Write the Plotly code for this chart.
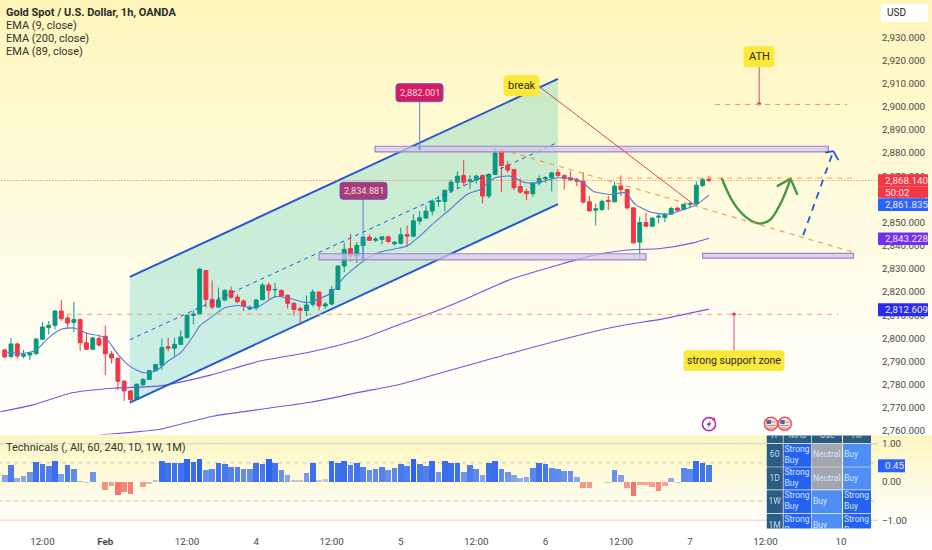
import numpy as np
import plotly.graph_objects as go

W = 932
H = 550

# hourly candles
opens = [2795,2792.1,2797.6,2792.3,2792.8,2793.4,2799.6,2804.6,2805.6,2811.8,2808.8,2806.8,2808.1,2798.1,2795.3,2800,2800.9,2793.3,2791.5,2781.5,2777.3,2773.7,2780,2782.3,2786.1,2788.4,2796.4,2795.7,2797.4,2800.3,2809.9,2810.4,2829.2,2816.8,2813.5,2816.5,2820.6,2817.8,2816.1,2812.7,2813.2,2816.7,2823,2820.9,2820.7,2818.6,2815.1,2812.8,2812,2814.7,2820,2814,2814.8,2821.1,2831.2,2838.8,2835.5,2840,2843.7,2842.3,2842.7,2843.8,2840.8,2841,2844.8,2844.1,2850.6,2851.9,2854.9,2859.1,2859.1,2863.7,2867.4,2870.3,2867.8,2868.3,2870.3,2861.4,2870.7,2880.3,2874.7,2872.9,2865.5,2863.4,2862.4,2867,2868.8,2869.3,2871.6,2870.3,2869.3,2868.5,2867.8,2858.9,2855.3,2855.6,2859.5,2858.9,2865.7,2864.2,2856.3,2841.5,2850,2848.4,2852.3,2852.2,2853.6,2856.2,2855.6,2857.8,2858.1,2866,2868.7]
highs = [2795.5,2800.2,2798.1,2795,2794.1,2800.3,2807,2807.5,2812.1,2816.5,2809.9,2815.7,2808.5,2802.2,2800.7,2801.6,2805.5,2794.6,2791.5,2782,2777.5,2780.5,2782.8,2786.4,2789,2799.9,2800.3,2800.3,2803.5,2810.4,2812.1,2830.2,2829.6,2825,2821.9,2821.1,2822.3,2819,2816.8,2814.2,2817.1,2824,2824,2824,2821.1,2818.8,2815.7,2813.7,2818.6,2821.1,2820.4,2815.7,2822.6,2831.5,2841.3,2845.1,2841.5,2843.7,2844.8,2843.8,2844.1,2844.1,2842,2847.7,2848.7,2853.5,2854.9,2857.3,2859.9,2861.4,2864.2,2868.5,2872.1,2876.9,2870.3,2870.7,2870.7,2871.1,2882.2,2881.8,2876.4,2873.1,2869,2864.5,2867.4,2870.3,2870,2871.9,2873.1,2870.7,2872.1,2869.3,2871.7,2861.4,2858.2,2859.9,2861.6,2867.5,2870.3,2864.5,2856.6,2852.5,2854.2,2852.2,2853.5,2854.2,2856.8,2856.8,2858.2,2858.8,2867.8,2869.3,2870.1]
lows = [2791.5,2791.7,2791.3,2791.3,2790.7,2792.7,2799.2,2801.7,2803.9,2807.5,2804.5,2802.7,2794.6,2795,2795,2796.4,2784.2,2789.2,2777.7,2773,2772,2773.4,2779.5,2782,2785.8,2786.4,2794.4,2792.4,2797.1,2800,2806,2810.1,2813.2,2812.5,2813.2,2816,2817.1,2815.1,2811.8,2812.1,2812.1,2816.4,2816.8,2817.5,2817.8,2812.8,2809.9,2806.5,2809.6,2813.7,2812.1,2812.8,2814.2,2820.9,2828.6,2833.1,2832.6,2834.8,2842,2841.5,2840.5,2841.2,2840.1,2840.5,2839.5,2843.8,2849.1,2851.6,2853,2856.8,2854.8,2862.8,2864.5,2865.7,2864.5,2866.8,2858.2,2860.4,2870.4,2863.1,2871.4,2864,2862.5,2859.6,2861.1,2866,2867.1,2863.4,2869.7,2864.2,2867.8,2865.7,2858.2,2854.8,2848.7,2855,2855.3,2858.8,2861.4,2855.6,2841,2834.1,2848.1,2848,2849.6,2850.2,2853.3,2854.5,2855.3,2856.2,2857.1,2865.2,2867.7]
closes = [2792,2797.6,2792.4,2793,2793.7,2799.7,2804.9,2805.6,2811.8,2808.5,2806.6,2808.1,2798.1,2795.3,2800.2,2797.1,2793.3,2791.5,2781.5,2777.3,2773.6,2780.2,2782.3,2786.1,2788.7,2796,2795.8,2797.4,2800.6,2809.9,2810.5,2829.9,2816.8,2813.5,2816.5,2820.7,2817.7,2815.8,2814.1,2813.4,2816.5,2823,2820.7,2821.1,2818.3,2815.1,2812.5,2812.1,2814.4,2820,2814,2814.8,2821.1,2831.2,2838.4,2835.5,2840.1,2843.7,2842.3,2842.8,2843.8,2841.8,2841.5,2844.7,2844.1,2850.7,2852,2854.9,2859.2,2859.5,2863.9,2867.4,2870,2867.4,2868.4,2870,2861.4,2870.7,2880,2874.6,2872.6,2865.1,2863.1,2862.4,2867,2869,2869.4,2871.4,2870.3,2869,2868.4,2867.8,2858.8,2855,2855.9,2859.1,2859.1,2865.7,2864.2,2856.3,2841.2,2850,2848.4,2851.9,2852.7,2853.6,2856,2855.3,2857.8,2858.2,2866.1,2868.5,2868]
bars = list(range(len(opens)))

# Technicals histogram, one value per candle
tech_values = [.16,.44,.1,.14,.25,.51,.45,.41,.54,.2,.43,.34,.01,-.03,.25,-.01,-.22,-.12,-.36,-.28,-.32,-.01,-.15,-.05,.04,.54,.49,.49,.49,.6,.52,.6,.3,.34,.49,.45,.39,.39,.32,.32,.49,.45,.6,.49,.3,.16,.05,.05,.23,.5,.03,.07,.54,.5,.54,.43,.49,.39,.3,.34,.39,.3,.36,.45,.41,.6,.45,.41,.54,.25,.54,.5,.5,.25,.43,.34,.16,.5,.54,.34,.25,.16,.09,.12,.36,.5,.45,.36,.34,.28,.28,.13,-.17,-.17,-.01,-.01,-.03,.3,.17,-.17,-.39,-.09,-.09,-.14,-.24,-.12,.1,-.03,.36,.34,.54,.5,.43]

ema9_x = [0,3,5,7,9,11,13,16,18,20,22,24,26,28,30,31,33,35,37,40,43,45,48,52,53.9,57,59.7,64,66,68,70.8,73.5,75.6,78,80.4,82.5,84.6,88,91,92.3,93.6,96.3,98.7,100.3,102.7,105.3,108,110.1,112]
ema9_y = [2794.1,2793.6,2795,2800.3,2803.9,2804.5,2802.2,2800.3,2793.1,2787.8,2785.2,2785.9,2790.2,2793.8,2801,2805.3,2809.4,2813.2,2814.2,2813.2,2818,2817.5,2815.4,2819.7,2826.2,2833.3,2837.2,2839.8,2844.1,2849.2,2855.6,2862.1,2864.2,2869.3,2870,2867.4,2867.1,2869.3,2868.5,2866.4,2863.5,2862.1,2862.8,2857.8,2854.5,2853.5,2855.6,2857.8,2861.8]
ema89_x = [-0.7,4.5,10.9,17.2,24.7,32.2,40.6,48.6,56.5,62.9,67.7,73.4,80.4,88.3,93.6,99,104.3,109.5,112]
ema89_y = [2768.3,2771.3,2776.6,2778.5,2779.5,2783.8,2790.2,2794.1,2799.6,2806.1,2810.8,2817.1,2825.4,2831.9,2835.8,2838.1,2838.8,2841.2,2843.2]
ema200_x = [15.2,24.7,33.1,48.6,56.5,62.9,78.8,95.2,99,104.3,112]
ema200_y = [2758.4,2760.8,2766.4,2772.4,2776.8,2780.2,2792.3,2803.9,2806,2808.2,2812.6]

price_ticks = list(range(2760, 2940, 10))
time_ticks = [6, 16, 29, 40, 52, 63, 75, 86, 98, 109, 121, 133]
time_labels = ["12:00", "<b>Feb</b>", "12:00", "4", "12:00", "5", "12:00", "6", "12:00", "7", "12:00", "10"]

table_tf = ["TF", "60", "1D", "1W", "1M"]
table_mas = ["MAs", "Strong<br>Buy", "Strong<br>Buy", "Strong<br>Buy", "Strong<br>Buy"]
table_osc = ["Osc", "Neutral", "Neutral", "Buy", "Buy"]
table_all = ["All", "Buy", "Buy", "Strong<br>Buy", "Strong<br>Buy"]

FONT = "Roboto"
NARROW = "Liberation Sans Narrow, Roboto"
TICK = "#4a4a4a"
TICK_SIZE = 9.8
BLUE = "#2457d6"
ORANGE = "#f5a04c"
YELLOW = "#fbe83a"


def px(x):
    return x / W


def py(y):
    return 1 - y / H


def round_rect(x0, y0, x1, y1, r=3):
    a, b, c, d = px(x0), py(y0), px(x1), py(y1)
    rx, ry = r / W, r / H
    return (f"M{a+rx},{b} L{c-rx},{b} Q{c},{b} {c},{b-ry} L{c},{d+ry} Q{c},{d} {c-rx},{d} "
            f"L{a+rx},{d} Q{a},{d} {a},{d+ry} L{a},{b-ry} Q{a},{b} {a+rx},{b} Z")


shapes = []
annots = []


def gradient(top, bottom, ys, reds, greens, blues):
    for y in np.arange(top, bottom, 4):
        col = f"rgb({np.interp(y, ys, reds):.0f},{np.interp(y, ys, greens):.0f},{np.interp(y, ys, blues):.0f})"
        shapes.append(dict(type="rect", xref="paper", yref="paper", x0=0, x1=1, y0=py(y), y1=py(y + 4),
                           fillcolor=col, line_width=0, layer="below"))


def dline(x0, y0, x1, y1, color, width=1, dash="solid", layer="above", yref="y"):
    shapes.append(dict(type="line", xref="x", yref=yref, x0=x0, y0=y0, x1=x1, y1=y1,
                       line=dict(color=color, width=width, dash=dash), layer=layer))


def box(x0, y0, x1, y1):
    shapes.append(dict(type="rect", xref="x", yref="y", x0=x0, y0=y0, x1=x1, y1=y1,
                       fillcolor="rgba(205,200,232,0.75)", line=dict(color="#a97fcf", width=1.2), layer="above"))


def label(text, x0, y0, x1, y1, fill, color="#2b2b2b", border=None, size=11):
    shapes.append(dict(type="path", xref="paper", yref="paper", path=round_rect(x0, y0, x1, y1), fillcolor=fill,
                       line=dict(color=border or fill, width=1), layer="above"))
    annots.append(dict(text=text, xref="paper", yref="paper", x=px((x0 + x1) / 2), y=py((y0 + y1) / 2),
                       showarrow=False, xanchor="center", yanchor="middle", font=dict(family=FONT, size=size, color=color)))


def tag(text, y0, y1, fill, x1=928):
    shapes.append(dict(type="rect", xref="paper", yref="paper", x0=px(878), x1=px(x1), y0=py(y0), y1=py(y1),
                       fillcolor=fill, line_width=0, layer="above"))
    annots.append(dict(text=text, xref="paper", yref="paper", x=px(882.5), y=py((y0 + y1) / 2), showarrow=False,
                       xanchor="left", yanchor="middle", font=dict(family=FONT, size=TICK_SIZE, color="#f3e9ee")))


def text(t, x, y, size=11, color="#333333"):
    annots.append(dict(text=t, xref="paper", yref="paper", x=px(x), y=py(y), showarrow=False, xanchor="left",
                       yanchor="middle", font=dict(family=NARROW, size=size, color=color)))


gradient(0, 436, [0, 120, 300, 436], [254, 255, 255, 255], [245, 249, 253, 255], [185, 205, 238, 255])
gradient(437, 529, [437, 529], [253, 255], [246, 255], [190, 255])

# channel and the other drawings on the price pane
shapes.append(dict(type="path", xref="x", yref="y", path="M19.9,2826.5 L88,2912 L88,2857.9 L19.9,2772.3 Z",
                   fillcolor="rgba(50,195,180,0.26)", line_width=0, layer="below"))
dline(19.9, 2826.5, 88, 2912, BLUE, 2)
dline(19.9, 2772.3, 88, 2857.9, BLUE, 2)
dline(19.9, 2799.4, 88, 2884.6, BLUE, 1, "4px,4px")

dline(-1, 2868.14, 139, 2868.14, "#ef6a6a", 1, "1px,2px")
dline(9.9, 2810.4, 132.6, 2810.4, ORANGE, 1.2, "5px,5px")
dline(97.4, 2869.2, 134.8, 2869.2, ORANGE, 1.2, "5px,5px")
dline(79, 2881.5, 135, 2837.2, ORANGE, 1.2, "5px,5px")
dline(113, 2900.9, 134, 2900.9, ORANGE, 1.2, "5px,5px")

box(58.9, 2880.5, 131, 2882.9)
box(50, 2833.9, 102, 2836.5)
box(111, 2834.6, 135, 2836.7)

dline(85, 2908.7, 109.8, 2857.4, "#d2495f", 1)
dline(120, 2917.2, 120, 2901.2, "#e8607a", 1.2)
dline(116, 2810.4, 116, 2794.7, "#e48aa8", 1.5)
dline(66, 2902.1, 66, 2881.8, "#4f86e8", 1)
dline(57, 2860, 57, 2834.6, "#4f86e8", 1)

dline(127, 2844.5, 131.8, 2880.8, BLUE, 1.8, "7px,6px")
dline(130.5, 2880.1, 131.8, 2880.8, BLUE, 1.8)
dline(131.8, 2880.8, 132.6, 2876.9, BLUE, 1.8)

label("2,882.001", 396, 84, 443, 102, "#d81b60", "#f7dbe6", "#6a55c8", 9.2)
label("2,834.881", 340, 183, 387, 200, "#a83c72", "#f2dce8", "#6a55c8", 9.2)
label("break", 504, 76, 539, 96, YELLOW)
label("ATH", 744, 47, 774, 67, YELLOW)
label("strong support zone", 684, 352, 784, 372, YELLOW, size=10.5)

# Technicals pane guide lines
dline(-1, 1, 139, 1, "#b5d8d8", 1, yref="y2", layer="below")
dline(-1, -1, 139, -1, "#f2c9c9", 1, yref="y2", layer="below")
dline(-1, 0.5, 139, 0.5, "#c4c4b8", 1, "4px,4px", yref="y2", layer="below")
dline(-1, -0.5, 139, -0.5, "#c4c4b8", 1, "4px,4px", yref="y2", layer="below")

# table in the Technicals pane, on its own axes so it gets clipped
table_cols = [(0, 16.3), (17, 44.8), (45.5, 75.5), (76.5, 104.5)]
table_rows = [(-6, 7.6), (8.6, 31.4), (32, 54.4), (55, 78), (79, 102)]
table_fill = {"Strong<br>Buy": "#2563ee", "Buy": "#4f8ff5", "Neutral": "#a3a6ae"}
table_x, table_y, table_t, table_x_c, table_y_c, table_t_c = [], [], [], [], [], []
for c, col in enumerate([table_tf, table_mas, table_osc, table_all]):
    for r, val in enumerate(col):
        fill = "#2a5c84" if (c == 0 or r == 0) else table_fill[val]
        x0, x1 = table_cols[c]
        y0, y1 = table_rows[r]
        shapes.append(dict(type="rect", xref="x3", yref="y3", x0=x0, x1=x1, y0=y0, y1=y1, fillcolor=fill,
                           line_width=0, layer="below"))
        if c == 0 or r == 0:
            table_x_c.append((x0 + x1) / 2)
            table_y_c.append((y0 + y1) / 2)
            table_t_c.append(val)
        else:
            table_x.append(x0 + 1)
            table_y.append((y0 + y1) / 2)
            table_t.append(val)

# price tags
tag("2,868.140", 175, 187, "#f23645")
tag("50:02", 187, 198.5, "#f23645")
tag("2,861.835", 199, 211.7, "#2962ff")
tag("2,843.228", 233.3, 246, "#6f2ff5")
tag("2,812.609", 304.3, 317.3, "#2a2af0")
tag("0.45", 461, 474, "#2962ff", 905)

# USD box
shapes.append(dict(type="path", xref="paper", yref="paper", path=round_rect(881, 4, 928, 22), fillcolor="#ffffff",
                   line_width=0, layer="above"))
annots.append(dict(text="USD", xref="paper", yref="paper", x=px(885), y=py(13), showarrow=False, xanchor="left",
                   yanchor="middle", font=dict(family=FONT, size=10, color="#222222")))

text("<b>Gold Spot / U.S. Dollar, 1h, OANDA</b>", 4, 12.3, 11, "#2b2b2b")
text("EMA (9, close)", 4, 25.7)
text("EMA (200, close)", 4, 38.7)
text("EMA (89, close)", 4, 51.7)
text("Technicals (, All, 60, 240, 1D, 1W, 1M)", 4, 449)

# event icons under the price pane
def circle(cx, cy, r, fill, color, width=1.5):
    shapes.append(dict(type="circle", xref="paper", yref="paper", x0=px(cx - r), x1=px(cx + r), y0=py(cy - r),
                       y1=py(cy + r), fillcolor=fill, line=dict(color=color, width=width), layer="above"))


circle(709, 425.7, 6.6, "#ffffff", "#9c27b0")
circle(713.7, 420.7, 1.6, "#f23645", "#f23645", 0)
shapes.append(dict(type="path", xref="paper", yref="paper", layer="above", fillcolor="#9c27b0", line_width=0,
                   path=f"M{px(710.5)},{py(421.5)} L{px(706.5)},{py(426.5)} L{px(708.8)},{py(426.5)} L{px(707.5)},{py(430)} L{px(711.5)},{py(424.8)} L{px(709.2)},{py(424.8)} Z"))
for cx in [771, 784.7]:
    circle(cx, 425.3, 6.6, "#f4f0f2", "#ef5350")
    shapes.append(dict(type="rect", xref="paper", yref="paper", x0=px(cx - 4.5), x1=px(cx), y0=py(421.5), y1=py(425.5),
                       fillcolor="#3f66b0", line_width=0, layer="above"))
    for sy in [423, 426.5, 429]:
        shapes.append(dict(type="rect", xref="paper", yref="paper", x0=px(cx - 4.5 if sy > 425 else cx), x1=px(cx + 4.5),
                           y0=py(sy), y1=py(sy + 1.1), fillcolor="#e57373", line_width=0, layer="above"))

tech_colors = []
for v in tech_values:
    alpha = min(1, 0.42 + 0.95 * abs(v))
    if abs(v) < 0.08:
        tech_colors.append("rgba(170,175,190,0.7)")
    elif v > 0:
        tech_colors.append(f"rgba(41,98,240,{alpha:.2f})")
    else:
        tech_colors.append(f"rgba(242,80,70,{alpha:.2f})")

fig = go.Figure()
fig.add_trace(go.Bar(x=bars, y=tech_values, yaxis="y2", xaxis="x", marker=dict(color=tech_colors, line_width=0),
                     width=0.9, hoverinfo="skip"))
fig.add_trace(go.Candlestick(x=bars, open=opens, high=highs, low=lows, close=closes, xaxis="x", yaxis="y",
                             increasing=dict(line=dict(color="#089981", width=1), fillcolor="#089981"),
                             decreasing=dict(line=dict(color="#f23645", width=1), fillcolor="#f23645"),
                             whiskerwidth=0, hoverinfo="skip"))
for xs, ys, col in [(ema9_x, ema9_y, "#4f7bd6"), (ema89_x, ema89_y, "#7d52e0"), (ema200_x, ema200_y, "#7d52e0")]:
    fig.add_trace(go.Scatter(x=xs, y=ys, mode="lines", line=dict(color=col, width=1.1, shape="spline", smoothing=0.6),
                             hoverinfo="skip"))

# green projected path
fig.add_trace(go.Scatter(x=[114, 115.9, 118, 119.9, 121.7, 123.6, 125], y=[2869.3, 2858.6, 2852.1, 2849.6, 2851.1, 2859.3, 2868.9],
                         mode="lines", line=dict(color="#3f9a3f", width=2.4, shape="spline"), hoverinfo="skip"))
fig.add_trace(go.Scatter(x=[122.8, 125, 126.1], y=[2865.6, 2868.9, 2861.9], mode="lines",
                         line=dict(color="#3f9a3f", width=2.4), hoverinfo="skip"))
# anchors of the callouts
fig.add_trace(go.Scatter(x=[66, 57, 120, 116], y=[2881.8, 2834.6, 2901.2, 2810.4], mode="markers",
                         marker=dict(size=3.5, color=["#2f6fe0", "#2f6fe0", "#d81b60", "#d81b60"]), hoverinfo="skip"))

fig.add_trace(go.Scatter(x=table_x, y=table_y, text=table_t, mode="text", xaxis="x3", yaxis="y3", textposition="middle right",
                         textfont=dict(family=FONT, size=8.5, color="#d6e4ff"), cliponaxis=True, hoverinfo="skip"))
fig.add_trace(go.Scatter(x=table_x_c, y=table_y_c, text=table_t_c, mode="text", xaxis="x3", yaxis="y3", textposition="middle center",
                         textfont=dict(family=FONT, size=8.5, color="#c5d9e8"), cliponaxis=True, hoverinfo="skip"))

fig.update_layout(
    width=W, height=H, autosize=False, showlegend=False,
    margin=dict(l=0, r=0, t=0, b=0),
    paper_bgcolor="#ffffff", plot_bgcolor="rgba(0,0,0,0)",
    font=dict(family=FONT, size=TICK_SIZE, color=TICK),
    shapes=shapes, annotations=annots, bargap=0, boxgap=0.12,
    xaxis=dict(domain=[0, px(878)], range=[-0.75, 138.9], anchor="y2", showgrid=False, zeroline=False,
               tickmode="array", tickvals=time_ticks, ticktext=time_labels, ticks="", showline=False,
               rangeslider=dict(visible=False), tickfont=dict(family=FONT, size=TICK_SIZE, color=TICK), ticklabelstandoff=7),
    yaxis=dict(domain=[py(436), 1], range=[2758.55, 2946], side="right", anchor="x", showgrid=False, zeroline=False,
               tickmode="array", tickvals=price_ticks, tickformat=",.3f", ticks="", ticklabelstandoff=3,
               tickfont=dict(family=FONT, size=TICK_SIZE, color=TICK)),
    yaxis2=dict(domain=[py(529), py(437)], range=[-1.18, 1.22], side="right", anchor="x", showgrid=False, zeroline=False,
                tickmode="array", tickvals=[1, 0, -1], ticktext=["1.00", "0.00", "\u22121.00"], ticks="", ticklabelstandoff=3,
                tickfont=dict(family=FONT, size=TICK_SIZE, color=TICK)),
    xaxis3=dict(domain=[px(766.5), px(871)], range=[0, 104.5], anchor="y3", visible=False),
    yaxis3=dict(domain=[py(530.5), py(437)], range=[93.5, 0], anchor="x3", visible=False),
)

# the page's default body margin would push the whole chart 8px in
fig.write_html("out.html", config={"displayModeBar": False},
               post_script="document.body.style.margin='0';document.documentElement.style.overflow='hidden';")
